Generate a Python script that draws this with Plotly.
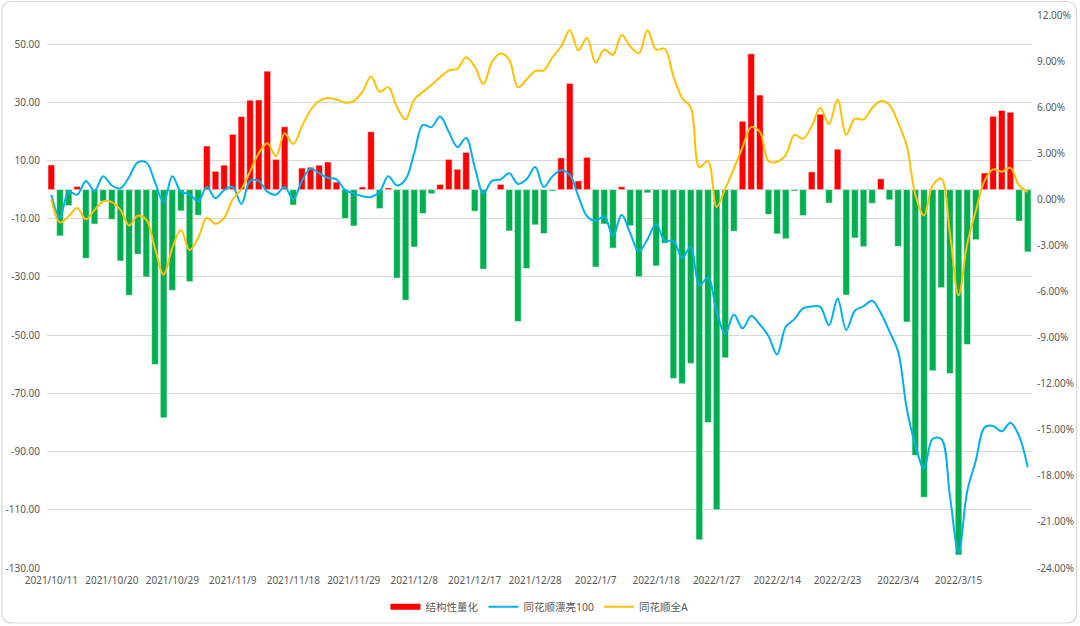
import plotly.graph_objects as go

# ---------------- data ----------------
dates = [
    "2021/10/11","2021/10/12","2021/10/13","2021/10/14","2021/10/15",
    "2021/10/18","2021/10/19","2021/10/20","2021/10/21","2021/10/22",
    "2021/10/25","2021/10/26","2021/10/27","2021/10/28","2021/10/29",
    "2021/11/1","2021/11/2","2021/11/3","2021/11/4","2021/11/5",
    "2021/11/8","2021/11/9","2021/11/10","2021/11/11","2021/11/12",
    "2021/11/15","2021/11/16","2021/11/17","2021/11/18","2021/11/19",
    "2021/11/22","2021/11/23","2021/11/24","2021/11/25","2021/11/26",
    "2021/11/29","2021/11/30",
    "2021/12/1","2021/12/2","2021/12/3",
    "2021/12/6","2021/12/7","2021/12/8","2021/12/9","2021/12/10",
    "2021/12/13","2021/12/14","2021/12/15","2021/12/16","2021/12/17",
    "2021/12/20","2021/12/21","2021/12/22","2021/12/23","2021/12/24",
    "2021/12/27","2021/12/28","2021/12/29","2021/12/30","2021/12/31",
    "2022/1/4","2022/1/5","2022/1/6","2022/1/7",
    "2022/1/10","2022/1/11","2022/1/12","2022/1/13","2022/1/14",
    "2022/1/17","2022/1/18","2022/1/19","2022/1/20","2022/1/21",
    "2022/1/24","2022/1/25","2022/1/26","2022/1/27","2022/1/28",
    "2022/2/7","2022/2/8","2022/2/9","2022/2/10","2022/2/11",
    "2022/2/14","2022/2/15","2022/2/16","2022/2/17","2022/2/18",
    "2022/2/21","2022/2/22","2022/2/23","2022/2/24","2022/2/25",
    "2022/2/28",
    "2022/3/1","2022/3/2","2022/3/3","2022/3/4",
    "2022/3/7","2022/3/8","2022/3/9","2022/3/10","2022/3/11",
    "2022/3/14","2022/3/15","2022/3/16","2022/3/17","2022/3/18",
    "2022/3/21","2022/3/22","2022/3/23","2022/3/24","2022/3/25",
]

# 结构性量化 (left axis)
quant = [
    8.5, -15.9, -5.5, 1.1, -23.6, -11.8, -4.0, -10.2, -24.5, -36.3,
    -22.2, -30.0, -60.1, -78.4, -34.6, -7.3, -31.6, -8.8, 15.0, 6.3,
    8.4, 19.0, 25.1, 30.7, 30.8, 40.7, 10.4, 21.6, -5.3, 7.4,
    7.7, 8.4, 9.5, 2.6, -9.9, -12.5, 0.9, 19.9, -6.5, 0.6,
    -30.4, -38.0, -19.7, -8.2, -1.4, 1.8, 10.4, 7.0, 12.8, -7.4,
    -27.3, 0.0, 1.8, -14.2, -45.3, -27.1, -12.1, -15.1, -0.5, 10.9,
    36.5, 3.0, 11.1, -26.6, -11.8, -20.1, 1.0, -12.4, -29.9, -1.1,
    -26.2, -18.4, -64.9, -66.7, -59.7, -120.3, -80.0, -110.0, -57.8, -14.3,
    23.5, 46.7, 32.5, -8.5, -15.2, -16.9, -0.5, -8.9, 6.1, 25.9,
    -4.6, 13.9, -36.2, -16.6, -19.6, -4.7, 3.7, -3.5, -19.5, -45.5,
    -91.3, -105.7, -62.2, -33.7, -63.2, -125.5, -53.2, -17.2, 5.7, 25.2,
    27.2, 26.6, -10.8, -21.4,
]

# 同花顺漂亮100 (right axis, %)
pretty100 = [
    0.3, -1.2, 0.5, 0.3, 1.2, 0.55, 1.5, 0.9, 0.72, 1.45,
    2.4, 2.4, 1.12, -0.2, 1.5, 0.5, 0.32, -0.12, 0.8, 0.07,
    0.6, 0.8, -0.3, 1.2, 1.2, 0.5, 0.3, 0.8, 0.0, 1.2,
    2.0, 1.7, 1.4, 1.3, 0.6, 0.4, 0.2, 0.15, 0.5, 1.5,
    0.9, 1.3, 3.0, 4.85, 4.7, 5.4, 4.4, 3.4, 4.0, 2.1,
    0.4, 1.2, 1.3, 1.7, 1.0, 1.3, 2.1, 0.8, 1.5, 1.9,
    1.6, 0.2, -1.1, -1.4, -1.1, -2.4, -1.0, -2.2, -3.4, -2.6,
    -1.6, -2.7, -2.7, -3.8, -3.1, -5.6, -5.1, -7.3, -8.75, -7.5,
    -8.4, -7.6, -8.15, -8.9, -10.1, -8.3, -7.8, -7.1, -6.97, -7.0,
    -8.2, -6.45, -8.5, -7.25, -6.96, -6.6, -7.4, -8.6, -9.9, -13.6,
    -16.0, -17.5, -15.6, -15.6, -19.3, -23.0, -19.0, -17.0, -14.85, -14.75,
    -15.1, -14.55, -15.4, -17.45,
]

# 同花顺全A (right axis, %)
all_a = [
    0.0, -1.5, -1.1, -0.57, -1.3, -0.7, -0.13, -0.18, -0.68, -1.7,
    -1.07, -1.33, -3.2, -4.9, -3.17, -2.0, -3.3, -2.5, -1.2, -1.6,
    -1.2, 0.0, 0.67, 1.8, 3.0, 3.65, 2.8, 4.3, 3.6, 4.75,
    5.8, 6.4, 6.6, 6.5, 6.3, 6.4, 7.0, 8.0, 7.0, 7.3,
    6.0, 5.2, 6.5, 7.0, 7.45, 7.95, 8.4, 8.5, 9.25, 8.65,
    7.5, 8.95, 9.5, 9.1, 7.3, 7.8, 8.35, 8.4, 9.25, 9.95,
    11.0, 9.7, 10.5, 8.9, 9.75, 9.4, 10.7, 9.95, 9.5, 11.0,
    9.75, 9.8, 8.0, 6.6, 6.0, 2.1, 2.5, -0.5, 0.7, 2.0,
    3.4, 4.7, 4.4, 2.5, 2.45, 2.9, 4.2, 3.95, 4.75, 5.95,
    4.9, 6.5, 4.2, 5.25, 5.2, 5.95, 6.4, 6.15, 5.0, 3.5,
    0.3, -1.05, 0.9, 1.35, -2.2, -6.25, -2.9, -0.75, 1.2, 1.95,
    1.8, 2.05, 0.9, 0.48,
]

series_names = ["结构性量化", "同花顺漂亮100", "同花顺全A"]
left_ticks = [-130, -110, -90, -70, -50, -30, -10, 10, 30, 50]
right_ticks = [-24, -21, -18, -15, -12, -9, -6, -3, 0, 3, 6, 9, 12]
x_label_dates = dates[0:106:7]

# ---------------- style ----------------
RED = "#FF0000"
GREEN = "#00B050"
BLUE = "#00B0F0"
YELLOW = "#FFC000"
GRID = "#D9D9D9"
TEXT = "#595959"
FONT = "Noto Sans, Noto Sans CJK SC, sans-serif"

W, H = 1080, 626
ML, MR, MT, MB = 47, 48, 15, 58
PW, PH = W - ML - MR, H - MT - MB


def paper(px, py):
    return (px - ML) / PW, (MT + PH - py) / PH


bar_colors = [RED if v >= 0 else GREEN for v in quant]

fig = go.Figure()
fig.add_trace(go.Bar(
    x=dates, y=quant, name=series_names[0], showlegend=False,
    marker=dict(color=bar_colors, line=dict(color="rgba(255,255,255,0.65)", width=0.8)),
    yaxis="y",
))
# legend proxy for the bar series (Excel shows a wide red swatch)
fig.add_trace(go.Scatter(
    x=[None], y=[None], mode="lines", name=series_names[0],
    line=dict(color=RED, width=6), yaxis="y",
))
fig.add_trace(go.Scatter(
    x=dates, y=pretty100, mode="lines", name=series_names[1],
    line=dict(color=BLUE, width=2, shape="spline", smoothing=1.0),
    yaxis="y2",
))
fig.add_trace(go.Scatter(
    x=dates, y=all_a, mode="lines", name=series_names[2],
    line=dict(color=YELLOW, width=2, shape="spline", smoothing=1.0),
    yaxis="y2",
))

# rounded outer border
x0, y0, x1, y1, r = 2, 1.5, 1076.5, 623, 10
pts = {
    "a": paper(x0 + r, y0), "b": paper(x1 - r, y0), "c": paper(x1, y0), "d": paper(x1, y0 + r),
    "e": paper(x1, y1 - r), "f": paper(x1, y1), "g": paper(x1 - r, y1), "h": paper(x0 + r, y1),
    "i": paper(x0, y1), "j": paper(x0, y1 - r), "k": paper(x0, y0 + r), "l": paper(x0, y0),
}
fmt = lambda p: f"{p[0]:.5f},{p[1]:.5f}"
path = (f"M {fmt(pts['a'])} L {fmt(pts['b'])} Q {fmt(pts['c'])} {fmt(pts['d'])} "
        f"L {fmt(pts['e'])} Q {fmt(pts['f'])} {fmt(pts['g'])} L {fmt(pts['h'])} "
        f"Q {fmt(pts['i'])} {fmt(pts['j'])} L {fmt(pts['k'])} Q {fmt(pts['l'])} {fmt(pts['a'])} Z")

tick_font = dict(family=FONT, size=10, color=TEXT)

fig.update_layout(
    width=W, height=H,
    margin=dict(l=ML, r=MR, t=MT, b=MB, pad=0, autoexpand=False),
    paper_bgcolor="white", plot_bgcolor="white",
    font=dict(family=FONT, size=10, color=TEXT),
    bargap=0.23,
    showlegend=True,
    legend=dict(orientation="h", x=0.5, xanchor="center", y=-0.07, yanchor="middle",
                font=dict(family=FONT, size=10.5, color=TEXT), itemwidth=30,
                bgcolor="rgba(0,0,0,0)", traceorder="normal"),
    xaxis=dict(type="category", range=[-0.5, len(dates) - 0.5], automargin=False,
               tickmode="array", tickvals=x_label_dates, ticktext=x_label_dates,
               showgrid=False, showline=False, zeroline=False, ticks="",
               tickangle=0, ticklabelstandoff=5, tickfont=tick_font),
    yaxis=dict(range=[-130, 60], tickmode="array", tickvals=left_ticks, automargin=False,
               ticktext=[f"{v:.2f}" for v in left_ticks],
               showgrid=True, gridcolor=GRID, gridwidth=1,
               zeroline=True, zerolinecolor=GRID, zerolinewidth=1,
               showline=False, ticks="", ticklabelstandoff=6, tickfont=tick_font),
    yaxis2=dict(range=[-24, 12], overlaying="y", side="right", tickmode="array", automargin=False,
                tickvals=right_ticks, ticktext=[f"{v:.2f}%" for v in right_ticks],
                showgrid=False, zeroline=False, showline=False, ticks="",
                ticklabelstandoff=4, tickfont=tick_font),
    shapes=[dict(type="path", xref="paper", yref="paper", path=path,
                 line=dict(color="#D9D9D9", width=1.2), fillcolor="rgba(0,0,0,0)",
                 layer="below")],
)

fig.write_html(
    "out.html",
    config={"displayModeBar": False},
    post_script="document.body.style.margin='0';document.body.style.overflow='hidden';",
)
